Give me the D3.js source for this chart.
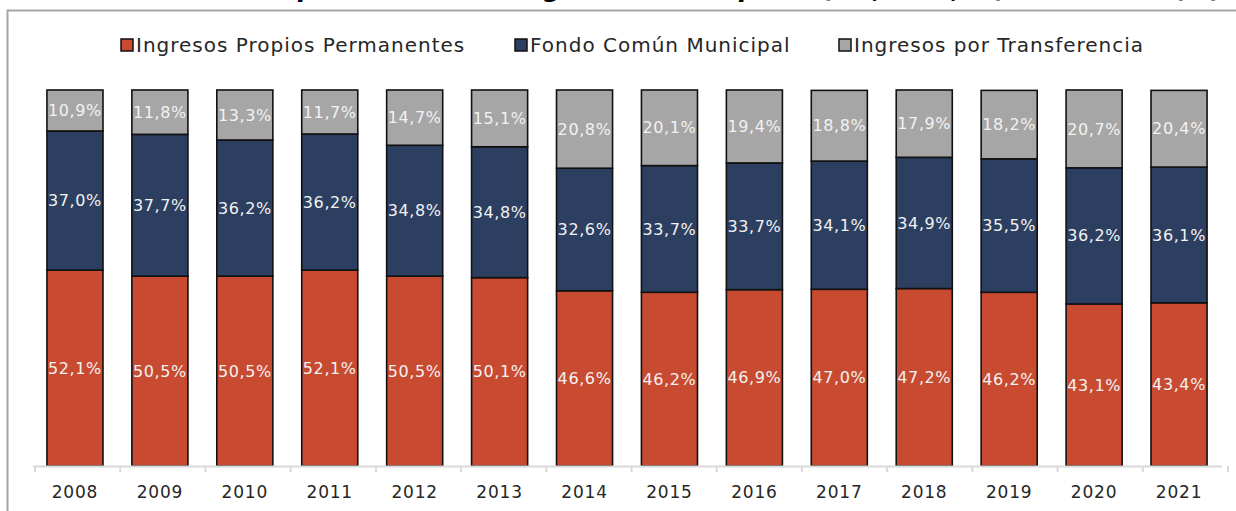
<!DOCTYPE html>
<html>
<head>
<meta charset="utf-8">
<script src="https://cdn.jsdelivr.net/npm/d3@7"></script>
<style>
  body { margin: 0; background: #fff; }
  svg { display: block; font-family: "DejaVu Sans", Verdana, sans-serif; }
</style>
</head>
<body>
<svg id="chart"></svg>
<script>
var years = ["2008", "2009", "2010", "2011", "2012", "2013", "2014", "2015", "2016", "2017", "2018", "2019", "2020", "2021"];
var propios = [52.1, 50.5, 50.5, 52.1, 50.5, 50.1, 46.6, 46.2, 46.9, 47.0, 47.2, 46.2, 43.1, 43.4];
var fondo = [37.0, 37.7, 36.2, 36.2, 34.8, 34.8, 32.6, 33.7, 33.7, 34.1, 34.9, 35.5, 36.2, 36.1];
var transferencia = [10.9, 11.8, 13.3, 11.7, 14.7, 15.1, 20.8, 20.1, 19.4, 18.8, 17.9, 18.2, 20.7, 20.4];
var seriesNames = ["Ingresos Propios Permanentes", "Fondo Común Municipal", "Ingresos por Transferencia"];

var width = 1236;
var height = 511;
var colors = ["#C84B31", "#2C3F60", "#A6A6A6"];

var svg = d3.select("#chart").attr("width", width).attr("height", height);

// title, mostly cut off at the top (as in the source image)
svg.append("text")
    .attr("x", 640)
    .attr("y", -3)
    .attr("text-anchor", "middle")
    .attr("font-size", "25px")
    .attr("font-weight", "bold")
    .attr("font-style", "italic")
    .attr("fill", "#000")
    .text("Gráfico N°1: Composición de los Ingresos Municipales (IPP, FCM, IT) 2008-2021 (%)");

// outer frame
svg.append("rect")
    .attr("x", 7.5)
    .attr("y", 10.5)
    .attr("width", width)
    .attr("height", height)
    .attr("fill", "none")
    .attr("stroke", "#a6a6a6")
    .attr("stroke-width", 2);

var data = years.map(function (y, i) {
    return { year: y, p: propios[i], f: fondo[i], t: transferencia[i] };
});

var stacked = d3.stack().keys(["p", "f", "t"])(data);

var xScale = d3.scaleBand()
    .domain(years)
    .range([32.5, 1221.5])
    .paddingInner(0.34)
    .paddingOuter(0.17);

var yScale = d3.scaleLinear()
    .domain([0, 100])
    .range([466, 90]);

var groups = svg.selectAll(".serie")
    .data(stacked)
    .enter().append("g")
    .attr("class", "serie")
    .attr("fill", (d, i) => colors[i]);

groups.selectAll("rect")
    .data(d => d)
    .enter().append("rect")
    .attr("x", d => xScale(d.data.year))
    .attr("y", d => yScale(d[1]))
    .attr("width", xScale.bandwidth())
    .attr("height", d => yScale(d[0]) - yScale(d[1]))
    .attr("stroke", "#111")
    .attr("stroke-width", 1.6);

groups.selectAll("text")
    .data(d => d)
    .enter().append("text")
    .attr("x", d => xScale(d.data.year) + xScale.bandwidth() / 2)
    .attr("y", d => (yScale(d[0]) + yScale(d[1])) / 2)
    .attr("dy", "0.35em")
    .attr("text-anchor", "middle")
    .attr("font-size", "16px")
    .attr("letter-spacing", "0.6px")
    .attr("fill", "#f2f2f2")
    .text(d => (d[1] - d[0]).toFixed(1).replace(".", ",") + "%");

// x axis
var axis = svg.append("g")
    .attr("transform", "translate(0,466)")
    .call(d3.axisBottom(xScale).tickSize(0).tickPadding(20));
axis.select(".domain").attr("stroke", "#d9d9d9").attr("stroke-width", 2);
axis.selectAll("text")
    .attr("font-size", "17px")
    .attr("letter-spacing", "0.8px")
    .attr("font-family", "DejaVu Sans, Verdana, sans-serif")
    .attr("fill", "#262626");

// category separator ticks
var tickPos = d3.range(years.length + 1).map(i => 35 + i * (1228 - 35) / years.length);
svg.selectAll(".sep")
    .data(tickPos)
    .enter().append("line")
    .attr("x1", d => d)
    .attr("x2", d => d)
    .attr("y1", 466)
    .attr("y2", 472)
    .attr("stroke", "#d9d9d9")
    .attr("stroke-width", 2);

// legend
var legendX = [121, 515, 839];
var legend = svg.selectAll(".legend")
    .data(seriesNames)
    .enter().append("g")
    .attr("class", "legend")
    .attr("transform", (d, i) => `translate(${legendX[i]},45)`);

legend.append("rect")
    .attr("x", 0)
    .attr("y", -6)
    .attr("width", 12)
    .attr("height", 12)
    .attr("fill", (d, i) => colors[i])
    .attr("stroke", "#111")
    .attr("stroke-width", 1.5);

legend.append("text")
    .attr("x", 15)
    .attr("y", 0)
    .attr("dy", "0.35em")
    .attr("font-size", "20px")
    .attr("letter-spacing", "1px")
    .attr("fill", "#262626")
    .text(d => d);
</script>
</body>
</html>
